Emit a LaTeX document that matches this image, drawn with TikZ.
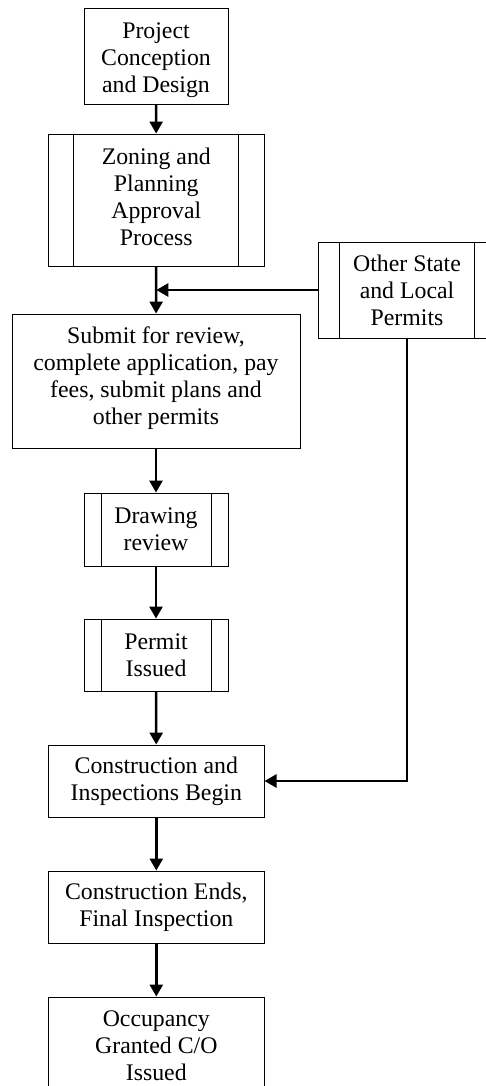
\documentclass[tikz,border=0pt]{standalone}
\usepackage{fontspec}
\setmainfont{Liberation Serif}
\usetikzlibrary{arrows.meta}
\begin{document}
\begin{tikzpicture}[x=1pt,y=-1pt,
  box/.style={draw, line width=0.9pt, rectangle, align=center, inner sep=0pt,
    font=\fontsize{23.8}{27}\selectfont},
  flow/.style={line width=2.6pt, -{Triangle[length=12pt,width=13pt]}},
  inner/.style={line width=0.9pt}]
\useasboundingbox (0,0) rectangle (486,1086);
\node[box, minimum width=144pt, minimum height=96pt] (pc) at (156,56) {\rule{0pt}{24pt}Project\\Conception\\and Design};
\node[box, minimum width=215.5pt, minimum height=132pt] (zp) at (156.3,200) {Zoning and\\Planning\\Approval\\Process\rule[-6pt]{0pt}{0pt}};
\node[box, minimum width=178pt, minimum height=96pt] (os) at (407,290) {Other State\\and Local\\Permits};
\node[box, minimum width=288pt, minimum height=134pt] (sr) at (156,381) {Submit for review,\\complete application, pay\\fees, submit plans and\\other permits\rule[-11pt]{0pt}{0pt}};
\node[box, minimum width=144pt, minimum height=73pt] (dr) at (156,529.5) {Drawing\\review};
\node[box, minimum width=144pt, minimum height=72pt] (pi) at (156,655) {Permit\\Issued};
\node[box, minimum width=215.5pt, minimum height=72pt] (ci) at (156.3,781) {Construction and\\Inspections Begin};
\node[box, minimum width=215.5pt, minimum height=72pt] (ce) at (156.3,907) {Construction Ends,\\Final Inspection};
\node[box, minimum width=215.5pt, minimum height=97pt] (oc) at (156.3,1045.5) {Occupancy\\Granted C/O\\Issued};
% inner vertical lines of the sub-process boxes
\draw[inner] ([xshift=25.5pt]zp.north west) -- ([xshift=25.5pt]zp.south west);
\draw[inner] ([xshift=-26pt]zp.north east) -- ([xshift=-26pt]zp.south east);
\draw[inner] ([xshift=22pt]os.north west) -- ([xshift=22pt]os.south west);
\draw[inner] ([xshift=-22pt]os.north east) -- ([xshift=-22pt]os.south east);
\foreach \n in {dr,pi}{
  \draw[inner] ([xshift=17.5pt]\n.north west) -- ([xshift=17.5pt]\n.south west);
  \draw[inner] ([xshift=-17.5pt]\n.north east) -- ([xshift=-17.5pt]\n.south east);
}
% connectors
\draw[flow] (pc) -- (zp);
\draw[flow] (zp) -- (sr);
\coordinate (j) at (zp.south |- os.west);
\draw[flow] (os.west) -- (j);
\draw[flow] (sr) -- (dr);
\draw[flow] (dr) -- (pi);
\draw[flow] (pi) -- (ci);
\draw[flow] (os.south) |- (ci.east);
\draw[flow] (ci) -- (ce);
\draw[flow] (ce) -- (oc);
\end{tikzpicture}
\end{document}
